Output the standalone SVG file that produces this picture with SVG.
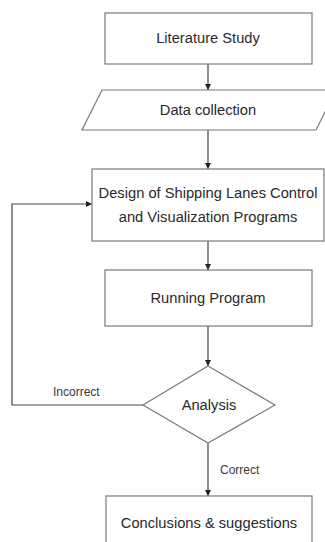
<svg xmlns="http://www.w3.org/2000/svg" width="325" height="542" viewBox="0 0 325 542">
<style>
.n{fill:#fff;stroke:#7a7a7a;stroke-width:1.2}
.t{font-family:"Liberation Sans",Arial,sans-serif;font-size:14.7px;fill:#2a2a2a;text-anchor:middle}
.l{font-family:"Liberation Sans",Arial,sans-serif;font-size:12px;fill:#3a3a3a}
.c{fill:none;stroke:#444;stroke-width:1.2}
</style>
<defs>
<marker id="a" viewBox="0 0 10 10" refX="10" refY="5" markerWidth="6" markerHeight="6" orient="auto" markerUnits="userSpaceOnUse">
<path d="M0,0 L10,5 L0,10 z" fill="#222"/>
</marker>
</defs>
<rect width="325" height="542" fill="#fff"/>
<g id="connectors">
<line class="c" x1="208" y1="64" x2="208" y2="90" marker-end="url(#a)"/>
<line class="c" x1="208" y1="130" x2="208" y2="169" marker-end="url(#a)"/>
<line class="c" x1="208" y1="241" x2="208" y2="270" marker-end="url(#a)"/>
<line class="c" x1="208" y1="326" x2="208" y2="366" marker-end="url(#a)"/>
<polyline class="c" points="143,405 12,405 12,204 92,204" marker-end="url(#a)"/>
<line class="c" x1="208" y1="443" x2="208" y2="496" marker-end="url(#a)"/>
<text class="l" x="53" y="396">Incorrect</text>
<text class="l" x="220" y="474">Correct</text>
</g>
<g id="literature">
<rect class="n" x="105" y="13" width="207" height="51"/>
<text class="t" x="208" y="43">Literature Study</text>
</g>
<g id="data">
<polygon class="n" points="102,90 336,90 316,130 82,130"/>
<text class="t" x="208" y="115">Data collection</text>
</g>
<g id="design">
<rect class="n" x="92" y="169" width="232" height="72"/>
<text class="t" x="208" y="198">Design of Shipping Lanes Control</text>
<text class="t" x="208" y="222">and Visualization Programs</text>
</g>
<g id="running">
<rect class="n" x="105" y="270" width="207" height="56"/>
<text class="t" x="208" y="303">Running Program</text>
</g>
<g id="analysis">
<polygon class="n" points="208,366 275,405 208,443 143,405"/>
<text class="t" x="209" y="410">Analysis</text>
</g>
<g id="conclusions">
<rect class="n" x="106" y="496" width="206" height="60"/>
<text class="t" x="209" y="528">Conclusions &amp; suggestions</text>
</g>
</svg>
